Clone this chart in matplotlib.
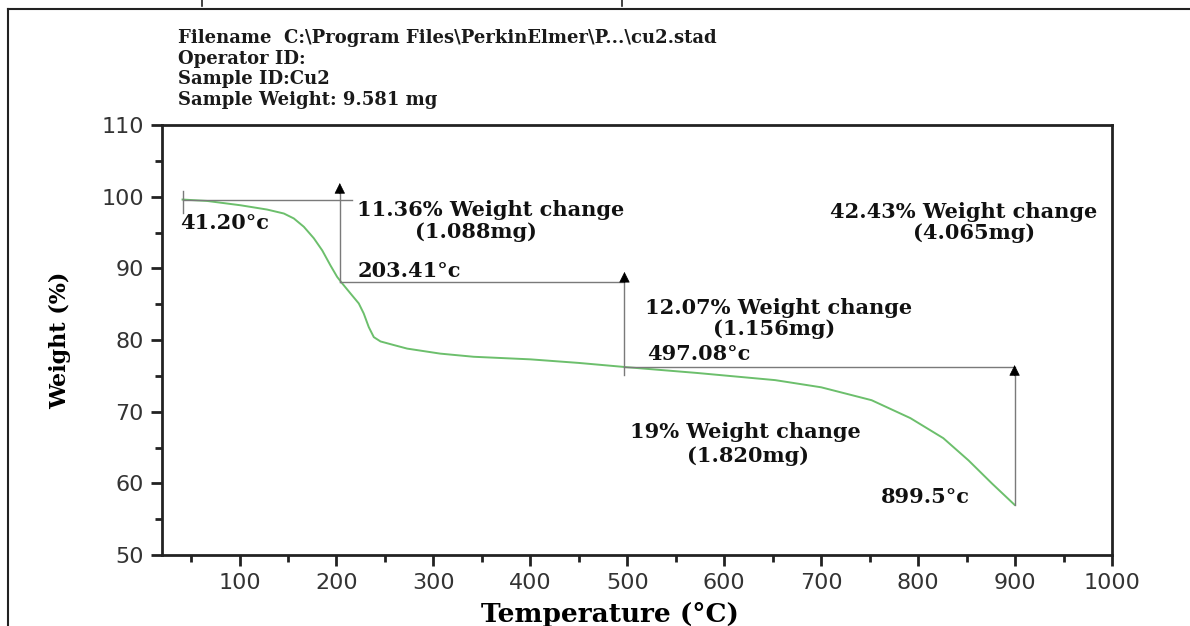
import matplotlib
matplotlib.use("Agg")
import matplotlib.pyplot as plt
from matplotlib.lines import Line2D
from matplotlib.ticker import MultipleLocator

# TGA curve
temp = [41.2, 66.7, 101, 128.5, 145.7, 156, 166.3, 176.6, 185.3, 193.8, 200.7, 205.9,
        214.4, 223, 228.1, 233.3, 238.5, 245.4, 259, 272.9, 307, 341.5, 400, 450,
        500, 572, 652.6, 700, 752, 792, 826, 852, 876, 899.5]
weight = [99.6, 99.4, 98.8, 98.2, 97.65, 96.96, 95.8, 94.2, 92.5, 90.4, 88.8, 87.9,
          86.5, 85.1, 83.7, 81.8, 80.4, 79.8, 79.3, 78.8, 78.1, 77.66, 77.3, 76.8,
          76.2, 75.4, 74.4, 73.4, 71.6, 69.1, 66.3, 63.2, 60.0, 57.0]

# step markers: temperature, weight level
step_t = [41.2, 203.41, 497.08, 899.5]
step_w = [99.6, 88.1, 76.2, 57.0]
arrow_top = [101.9, 89.5, 76.5]

header = ["Filename  C:\\Program Files\\PerkinElmer\\P...\\cu2.stad",
          "Operator ID:",
          "Sample ID:Cu2",
          "Sample Weight: 9.581 mg"]

serif = ["DejaVu Serif"]

fig = plt.figure(figsize=(11.9, 6.26), dpi=100)
ax = fig.add_axes([162/1190, 1-555/626, 950/1190, 430/626])

ax.plot(temp, weight, color="#6cbf6c", lw=1.4)

gray = "#7a7a7a"
# start marker
ax.plot([step_t[0], step_t[0]], [97.7, 100.8], color=gray, lw=1)
# horizontal levels
ax.plot([step_t[0], 216], [step_w[0], step_w[0]], color=gray, lw=1)
ax.plot([step_t[1], step_t[2]], [step_w[1], step_w[1]], color=gray, lw=1)
ax.plot([step_t[2], step_t[3]], [step_w[2], step_w[2]], color=gray, lw=1)
# vertical arrows: gray shaft, black head
arrow_bottom = [step_w[1], 75.1, step_w[3]]
for t, b, top in zip(step_t[1:], arrow_bottom, arrow_top):
    ax.plot([t, t], [b, top - 0.5], color=gray, lw=1)
    ax.annotate("", xy=(t, top), xytext=(t, top - 1.5),
                arrowprops=dict(arrowstyle="-|>", color="black", lw=0.5,
                                mutation_scale=17, shrinkA=0, shrinkB=0))

fs = 15
kw = dict(family=serif, fontweight="bold", fontsize=fs, color="#111111")
ax.text(39, 96.3, "41.20°c", ha="left", va="center", **kw)
ax.text(221.6, 98.1, "11.36% Weight change", ha="left", va="center", **kw)
ax.text(344, 95.0, "(1.088mg)", ha="center", va="center", **kw)
ax.text(221.6, 89.6, "203.41°c", ha="left", va="center", **kw)
ax.text(709, 97.8, "42.43% Weight change", ha="left", va="center", **kw)
ax.text(858, 94.9, "(4.065mg)", ha="center", va="center", **kw)
ax.text(518.6, 84.4, "12.07% Weight change", ha="left", va="center", **kw)
ax.text(651.5, 81.5, "(1.156mg)", ha="center", va="center", **kw)
ax.text(520.6, 78.0, "497.08°c", ha="left", va="center", **kw)
ax.text(503, 67.2, "19% Weight change", ha="left", va="center", **kw)
ax.text(624.7, 63.8, "(1.820mg)", ha="center", va="center", **kw)
ax.text(807, 58.1, "899.5°c", ha="center", va="center", **kw)

ax.set_xlim(20, 1000)
ax.set_ylim(50, 110)
ax.xaxis.set_major_locator(MultipleLocator(100))
ax.xaxis.set_minor_locator(MultipleLocator(50))
ax.yaxis.set_major_locator(MultipleLocator(10))
ax.yaxis.set_minor_locator(MultipleLocator(5))
ax.set_xticks(range(100, 1001, 100))
for s in ax.spines.values():
    s.set_linewidth(2)
    s.set_color("#222222")
ax.tick_params(which="major", direction="out", length=8, width=2, color="#222222",
               labelsize=16, labelcolor="#333333", pad=5)
ax.tick_params(which="minor", direction="out", length=5, width=2, color="#222222")
for lab in ax.get_xticklabels() + ax.get_yticklabels():
    lab.set_family("DejaVu Sans")

ax.set_ylabel("Weight (%)", family=serif, fontweight="bold", fontsize=16, labelpad=22)
fig.text(610/1190, 1-602/626, "Temperature (°C)", ha="center", va="top",
         family=serif, fontweight="bold", fontsize=19)

for i, line in enumerate(header):
    fig.text(178/1190, 1-(38 + 20.7*i)/626, line, ha="left", va="center",
             family=serif, fontweight="bold", fontsize=13, color="#1a1a1a")

# outer frame and cell borders
fig.add_artist(Line2D([8/1190, 1], [1-9/626, 1-9/626], color="#222222", lw=1.5))
fig.add_artist(Line2D([8/1190, 8/1190], [0, 1-9/626], color="#222222", lw=1.5))
fig.add_artist(Line2D([202/1190, 202/1190], [1-6/626, 1], color="#222222", lw=1.2))
fig.add_artist(Line2D([622/1190, 622/1190], [1-6/626, 1], color="#222222", lw=1.2))

fig.savefig("out.png", dpi=100)
